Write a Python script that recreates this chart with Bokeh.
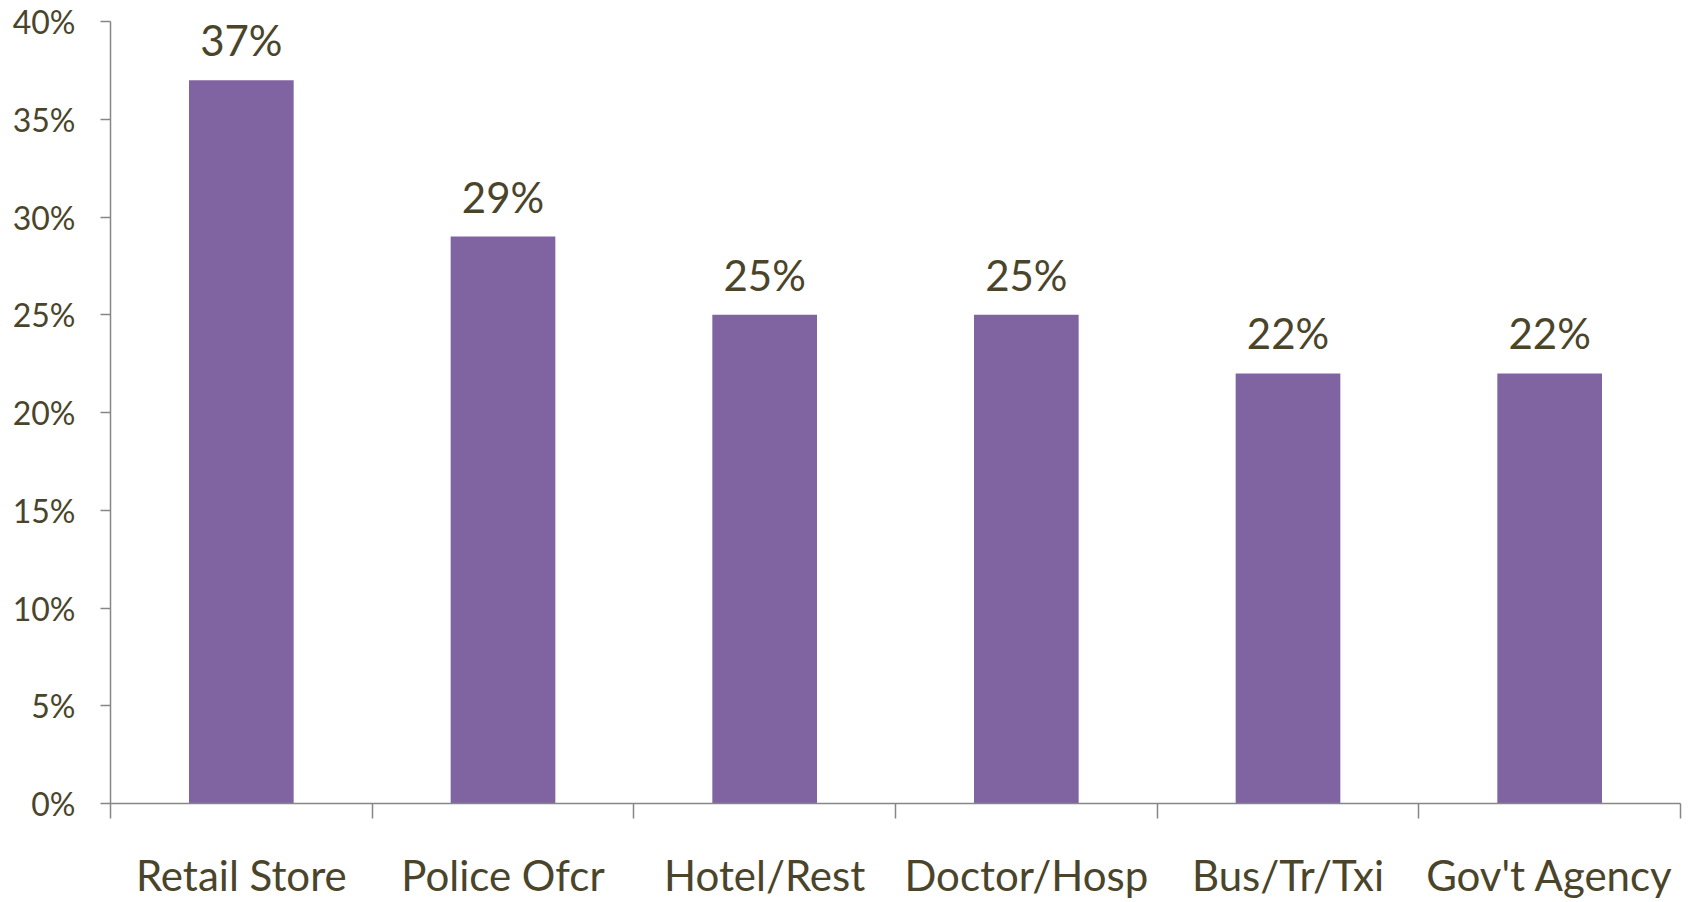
from bokeh.plotting import figure
from bokeh.models import Range1d, FixedTicker, PrintfTickFormatter, ColumnDataSource
from bokeh.core.properties import value
from bokeh.embed import file_html
from bokeh.resources import INLINE

categories = ["Retail Store", "Police Ofcr", "Hotel/Rest", "Doctor/Hosp", "Bus/Tr/Txi", "Gov't Agency"]
values = [37, 29, 25, 25, 22, 22]
y_ticks = [0, 5, 10, 15, 20, 25, 30, 35, 40]

TEXT = "#4A452A"
AXIS = "#868686"
BAR = "#8064A2"
FONT = "Lato"

centers = [i + 0.5 for i in range(len(categories))]
bounds = list(range(len(categories) + 1))
src = ColumnDataSource(dict(x=centers, top=values, label=[f"{v}%" for v in values]))

p = figure(width=1691, height=902,
           x_range=Range1d(0, len(categories)), y_range=Range1d(y_ticks[0], y_ticks[-1]),
           output_backend="svg", toolbar_location=None,
           min_border_left=110, min_border_right=11, min_border_top=21, min_border_bottom=99)
p.outline_line_color = None
p.grid.visible = False
p.background_fill_color = "white"
p.border_fill_color = "white"

p.vbar(x="x", top="top", bottom=0, width=0.4, source=src, fill_color=BAR, line_color=None)
p.text(x="x", y="top", text="label", source=src, text_align="center", text_baseline="alphabetic",
       y_offset=-40, text_font=value(FONT), text_font_size="42px", text_color=TEXT)

xa = p.xaxis[0]
xa.ticker = FixedTicker(ticks=centers, minor_ticks=bounds)
xa.major_label_overrides = {c: lab for c, lab in zip(centers, categories)}
xa.major_tick_out = 0
xa.major_tick_in = 0
xa.minor_tick_out = 0
xa.minor_tick_in = -15
xa.minor_tick_line_color = AXIS
xa.minor_tick_line_width = 1.5
xa.axis_line_color = AXIS
xa.axis_line_width = 1.5
xa.major_label_standoff = 46
xa.major_label_text_font = FONT
xa.major_label_text_font_size = "42px"
xa.major_label_text_color = TEXT

ya = p.yaxis[0]
ya.ticker = FixedTicker(ticks=y_ticks, minor_ticks=[])
ya.formatter = PrintfTickFormatter(format="%d%%")
ya.major_tick_out = 10
ya.major_tick_in = 0
ya.major_tick_line_color = AXIS
ya.major_tick_line_width = 1.5
ya.axis_line_color = AXIS
ya.axis_line_width = 1.5
ya.major_label_standoff = 25
ya.major_label_text_font = FONT
ya.major_label_text_font_size = "32px"
ya.major_label_text_color = TEXT

open("out.html", "w").write(file_html(p, INLINE))
